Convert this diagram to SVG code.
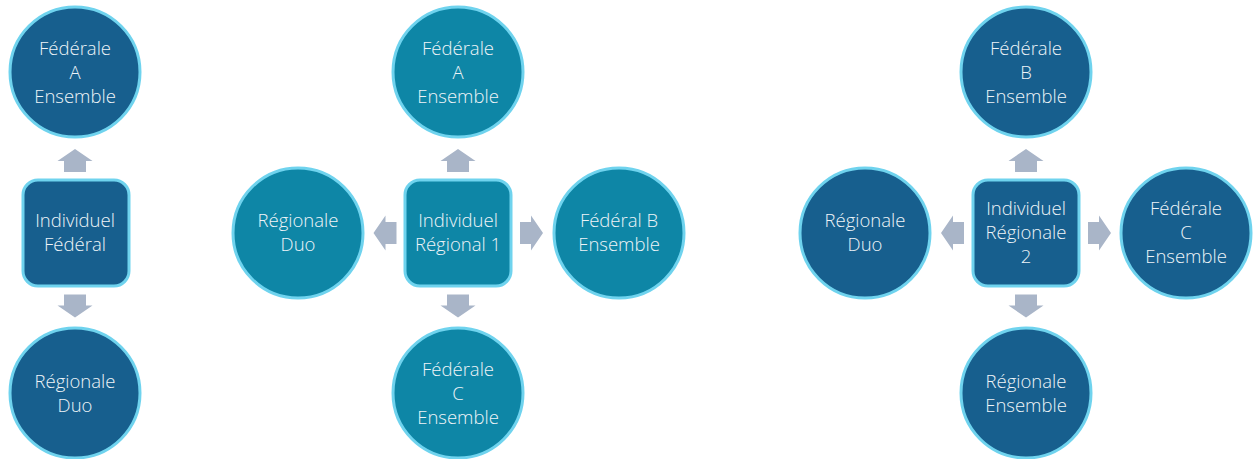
<svg xmlns="http://www.w3.org/2000/svg" width="1255" height="459" viewBox="0 0 1255 459">
<defs>
<style>
.dk{fill:#175F8E;stroke:#6FD3EE;stroke-width:3}
.tl{fill:#0E86A6;stroke:#6FD3EE;stroke-width:3}
.ar{fill:#A9B5C8}
text{font-family:"Open Sans","Noto Sans",sans-serif;font-size:18.5px;font-weight:300;fill:#EEF4F8;text-anchor:middle}
</style>
<path id="arr" d="M0,-11.5 L17.5,0.5 L11,0.5 L11,11.5 L-11,11.5 L-11,0.5 L-17.5,0.5 Z"/>
</defs>
<g id="connectors" class="ar">
<use href="#arr" transform="translate(75,160.5)"/>
<use href="#arr" transform="translate(75,306) rotate(180)"/>
<use href="#arr" transform="translate(458,160.5)"/>
<use href="#arr" transform="translate(458,306) rotate(180)"/>
<use href="#arr" transform="translate(385,233) rotate(-90)"/>
<use href="#arr" transform="translate(531.5,233) rotate(90)"/>
<use href="#arr" transform="translate(1026,160.5)"/>
<use href="#arr" transform="translate(1026,306) rotate(180)"/>
<use href="#arr" transform="translate(952.5,233) rotate(-90)"/>
<use href="#arr" transform="translate(1099.5,233) rotate(90)"/>
</g>
<g id="n1"><circle class="dk" cx="75" cy="72" r="65"/><text x="75" y="55">Fédérale</text><text x="75" y="79">A</text><text x="75" y="103">Ensemble</text></g>
<g id="n2"><rect class="dk" x="23" y="180" width="106" height="106" rx="15"/><text x="75" y="227">Individuel</text><text x="75" y="251">Fédéral</text></g>
<g id="n3"><circle class="dk" cx="75" cy="393" r="65"/><text x="75" y="388">Régionale</text><text x="75" y="412">Duo</text></g>
<g id="n4"><circle class="tl" cx="458" cy="72" r="65"/><text x="458" y="55">Fédérale</text><text x="458" y="79">A</text><text x="458" y="103">Ensemble</text></g>
<g id="n5"><rect class="tl" x="405" y="180" width="106" height="106" rx="15"/><text x="458" y="227">Individuel</text><text x="458" y="251">Régional 1</text></g>
<g id="n6"><circle class="tl" cx="298" cy="233" r="65"/><text x="298" y="227">Régionale</text><text x="298" y="251">Duo</text></g>
<g id="n7"><circle class="tl" cx="619" cy="233" r="65"/><text x="619" y="227">Fédéral B</text><text x="619" y="251">Ensemble</text></g>
<g id="n8"><circle class="tl" cx="458" cy="393" r="65"/><text x="458" y="376">Fédérale</text><text x="458" y="400">C</text><text x="458" y="424">Ensemble</text></g>
<g id="n9"><circle class="dk" cx="1026" cy="72" r="65"/><text x="1026" y="55">Fédérale</text><text x="1026" y="79">B</text><text x="1026" y="103">Ensemble</text></g>
<g id="n10"><rect class="dk" x="973" y="180" width="106" height="106" rx="15"/><text x="1026" y="215">Individuel</text><text x="1026" y="239">Régionale</text><text x="1026" y="263">2</text></g>
<g id="n11"><circle class="dk" cx="865" cy="233" r="65"/><text x="865" y="227">Régionale</text><text x="865" y="251">Duo</text></g>
<g id="n12"><circle class="dk" cx="1186" cy="233" r="65"/><text x="1186" y="215">Fédérale</text><text x="1186" y="239">C</text><text x="1186" y="263">Ensemble</text></g>
<g id="n13"><circle class="dk" cx="1026" cy="393" r="65"/><text x="1026" y="388">Régionale</text><text x="1026" y="412">Ensemble</text></g>
</svg>
